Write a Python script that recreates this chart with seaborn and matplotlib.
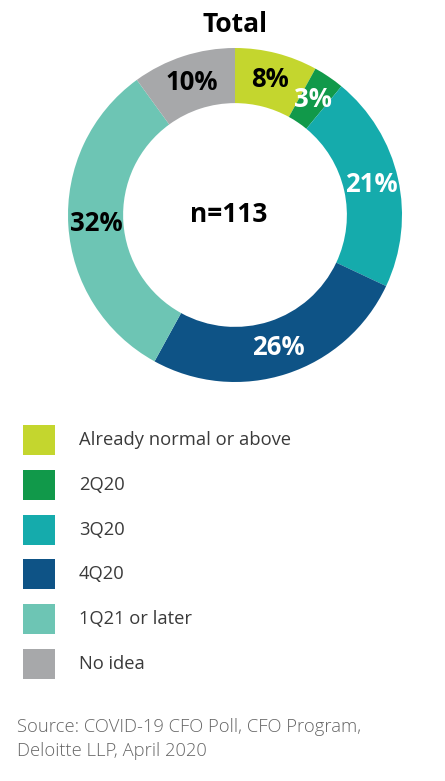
import matplotlib
matplotlib.use("Agg")
import matplotlib.pyplot as plt
import seaborn as sns
import numpy as np
from matplotlib.patches import Rectangle

categories = ["Already normal or above", "2Q20", "3Q20", "4Q20", "1Q21 or later", "No idea"]
shares = [8, 3, 21, 26, 32, 10]
colors = ["#C4D62E", "#11994A", "#15ABAC", "#0E5386", "#6DC5B4", "#A7A8AA"]
label_colors = ["black", "white", "white", "white", "black", "black"]
n_total = 113

sns.set_theme(style="white")
plt.rcParams['font.family'] = ['Open Sans', 'DejaVu Sans']

W, H = 445, 781
fig = plt.figure(figsize=(W / 100, H / 100), dpi=100)
fig.patch.set_facecolor("white")

# donut
cx, cy, r = 235, 215, 167
ax = fig.add_axes([(cx - r) / W, (H - cy - r) / H, 2 * r / W, 2 * r / H])
wedges, _ = ax.pie(shares, colors=colors, startangle=90, counterclock=False,
                   radius=1, wedgeprops=dict(width=0.33, edgecolor="none"))
ax.set_xlim(-1, 1)
ax.set_ylim(-1, 1)
ax.set_aspect("equal")
ax.axis("off")

mid_r = 1 - 0.33 / 2
for w, s, c in zip(wedges, shares, label_colors):
    ang = np.deg2rad((w.theta1 + w.theta2) / 2)
    ax.text(mid_r * np.cos(ang), mid_r * np.sin(ang), f"{s}%", ha="center", va="center",
            fontsize=18.5, fontweight="bold", color=c)

ax.text(-0.04, 0, f"n={n_total}", ha="center", va="center", fontsize=19, fontweight="bold", color="black")
fig.text(cx / W, 1 - 24 / H, "Total", ha="center", va="center", fontsize=19, fontweight="bold", color="black")

# legend
y0, dy = 440, 44.8
for i, (cat, col) in enumerate(zip(categories, colors)):
    yc = y0 + i * dy
    fig.add_artist(Rectangle((23 / W, 1 - (yc + 15) / H), 32 / W, 30 / H,
                             transform=fig.transFigure, facecolor=col, edgecolor="none"))
    fig.text(79 / W, 1 - yc / H, cat, ha="left", va="center", fontsize=13.2,
             color="#3a3a3a")

fig.text(17 / W, 1 - 727 / H, "Source: COVID-19 CFO Poll, CFO Program,", ha="left", va="center",
         fontsize=13.2, fontweight="light", color="#666666")
fig.text(17 / W, 1 - 751 / H, "Deloitte LLP, April 2020", ha="left", va="center",
         fontsize=13.2, fontweight="light", color="#666666")

fig.savefig("out.png", dpi=100, facecolor="white")
